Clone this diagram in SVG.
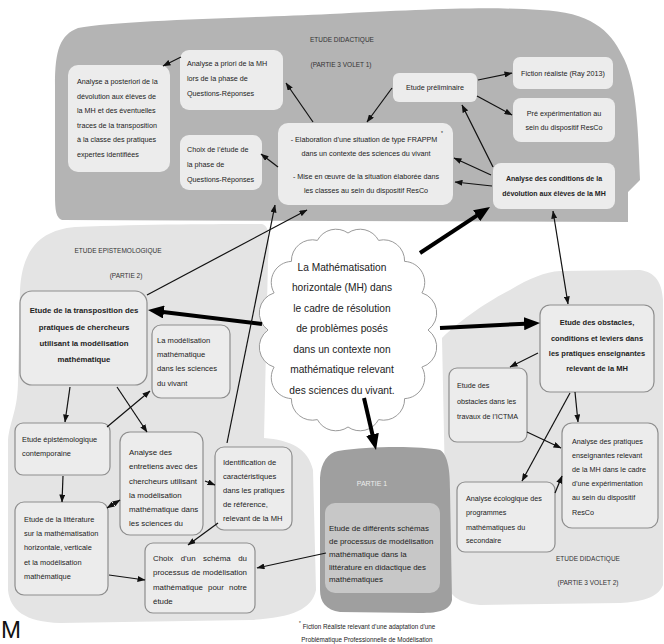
<svg xmlns="http://www.w3.org/2000/svg" width="664" height="644" viewBox="0 0 664 644">
<style>
.t{font-family:"Liberation Sans",Arial,sans-serif;fill:#222}
.s72{font-size:7.2px}
.s74{font-size:7.4px}
.s76{font-size:7.6px}
.s79{font-size:7.9px}
.ti{font-size:6.5px;fill:#333}
.b{font-weight:bold}
.c{text-anchor:middle}
.bx1{fill:#ececec}
.bx2{fill:#ececec;stroke:#8e8e8e;stroke-width:1.2}
.ln{stroke:#111;stroke-width:1.2;fill:none}
.th{stroke:#000;stroke-width:4;fill:none}
</style>
<defs>
<marker id="a" viewBox="0 0 8 6" refX="7.5" refY="3" markerWidth="8" markerHeight="6" markerUnits="userSpaceOnUse" orient="auto-start-reverse"><path d="M0,0L8,3L0,6z" fill="#111"/></marker>
<marker id="A" viewBox="0 0 16 13" refX="7" refY="6.5" markerWidth="16" markerHeight="13" markerUnits="userSpaceOnUse" orient="auto"><path d="M0,0L16,6.5L0,13z" fill="#000"/></marker>
</defs>
<rect width="664" height="644" fill="#fff"/>

<g id="zone-didactique-1">
<path d="M78,28 C120,20 250,18 330,14 C420,10 480,6 540,10 C590,12 610,30 622,55 C636,80 638,120 640,180 L628,192 L628,222 L62,220 C56,218 55,210 55,195 L55,85 C55,50 60,35 78,28 Z" fill="#b4b4b4"/>
<text class="t ti c" x="342" y="42">ETUDE DIDACTIQUE</text>
<text class="t ti c" x="341" y="67">(PARTIE 3 VOLET 1)</text>
</g>
<g id="zone-epistemologique">
<path d="M75,227 C150,224 230,224 262,224 C270,226 270,240 268,260 L264,438 C290,440 308,448 313,470 L316,590 C312,610 290,618 250,620 L60,623 C25,622 10,610 8,590 L8,440 C10,420 18,410 18,380 L20,290 C22,250 40,230 75,227 Z" fill="#e4e4e4"/>
<text class="t ti c" x="118" y="252.5">ETUDE EPISTEMOLOGIQUE</text>
<text class="t ti c" x="126" y="277.5">(PARTIE 2)</text>
</g>
<g id="zone-didactique-2">
<path d="M442,338 C460,320 490,300 510,290 C530,278 545,272 560,271 L640,270 C655,272 662,282 663,300 L663,585 C658,598 640,602 620,603 L480,605 C458,603 448,595 447,580 L442,338 Z" fill="#e4e4e4"/>
<text class="t ti c" x="588" y="561">ETUDE DIDACTIQUE</text>
<text class="t ti c" x="588" y="585">(PARTIE 3 VOLET 2)</text>
</g>
<g id="zone-partie1">
<path d="M338,451 C370,446 420,446 440,450 C448,455 450,470 450,490 L452,600 C450,610 440,613 420,613 L340,612 C326,610 320,602 320,590 L320,478 C321,462 328,453 338,451 Z" fill="#9f9f9f"/>
<text class="t c" x="372" y="485.5" style="font-size:7px;fill:#ececec">PARTIE 1</text>
</g>

<g id="cloud">
<path d="M428,330 A21,21 0 0 1 421.9,367.1 A21,21 0 0 1 404.6,398.6 A21,21 0 0 1 378.6,419.6 A21,21 0 0 1 348,427 A21,21 0 0 1 317.4,419.6 A21,21 0 0 1 291.4,398.6 A21,21 0 0 1 274.1,367.1 A21,21 0 0 1 268,330 A21,21 0 0 1 274.1,292.9 A21,21 0 0 1 291.4,261.4 A21,21 0 0 1 317.4,240.4 A21,21 0 0 1 348,233 A21,21 0 0 1 378.6,240.4 A21,21 0 0 1 404.6,261.4 A21,21 0 0 1 421.9,292.9 A21,21 0 0 1 428,330 Z" fill="#fff" stroke="#9a9a9a" stroke-width="1"/>
<text class="t c" style="font-size:10.2px" x="342"><tspan x="342" y="270.5">La Mathématisation</tspan><tspan x="342" y="291">horizontale (MH) dans</tspan><tspan x="342" y="311.5">le cadre de résolution</tspan><tspan x="342" y="332">de problèmes posés</tspan><tspan x="342" y="352.5">dans un contexte non</tspan><tspan x="342" y="373">mathématique relevant</tspan><tspan x="342" y="393.5">des sciences du vivant.</tspan></text>
</g>

<g id="n-aposteriori">
<rect class="bx1" x="68" y="65" width="102" height="107" rx="10"/>
<text class="t s72"><tspan x="77" y="84">Analyse a posteriori de la</tspan><tspan x="77" y="98.5">dévolution aux élèves de</tspan><tspan x="77" y="113">la MH et des éventuelles</tspan><tspan x="77" y="127.5">traces de la transposition</tspan><tspan x="77" y="142">à la classe des pratiques</tspan><tspan x="77" y="156.5">expertes identifiées</tspan></text>
</g>
<g id="n-apriori">
<rect class="bx1" x="180" y="50" width="103" height="60" rx="9"/>
<text class="t s72"><tspan x="187" y="65.5">Analyse a priori de la MH</tspan><tspan x="187" y="80.5">lors de la phase de</tspan><tspan x="187" y="95.5">Questions-Réponses</tspan></text>
</g>
<g id="n-choix-qr">
<rect class="bx1" x="180" y="135" width="82" height="55" rx="9"/>
<text class="t s72"><tspan x="187" y="151.5">Choix de l’étude de</tspan><tspan x="187" y="166.5">la phase de</tspan><tspan x="187" y="181.5">Questions-Réponses</tspan></text>
</g>
<g id="n-elaboration">
<rect class="bx1" x="278" y="123" width="175" height="82" rx="10"/>
<text class="t s72 c"><tspan x="364" y="141.5">- Elaboration d’une situation de type FRAPPM</tspan><tspan x="366" y="156">dans un contexte des sciences du vivant</tspan><tspan x="366" y="178.5">- Mise en œuvre de la situation élaborée dans</tspan><tspan x="366" y="193">les classes au sein du dispositif ResCo</tspan></text>
<text class="t" style="font-size:5px" x="441" y="135">*</text>
</g>
<g id="n-preliminaire">
<rect class="bx1" x="393" y="73" width="84" height="29" rx="6"/>
<text class="t s72 c" x="435" y="90">Etude préliminaire</text>
</g>
<g id="n-fiction">
<rect class="bx1" x="513" y="57" width="100" height="32" rx="7"/>
<text class="t s72 c" x="563" y="75.5">Fiction réaliste (Ray 2013)</text>
</g>
<g id="n-preexp">
<rect class="bx1" x="513" y="98" width="102" height="44" rx="8"/>
<text class="t s72 c"><tspan x="564" y="116">Pré expérimentation au</tspan><tspan x="564" y="130">sein du dispositif ResCo</tspan></text>
</g>
<g id="n-conditions">
<rect class="bx1" x="493" y="163" width="122" height="46" rx="8"/>
<text class="t b c" style="font-size:7px"><tspan x="554" y="181">Analyse des conditions de la</tspan><tspan x="554" y="196">dévolution aux élèves de la MH</tspan></text>
</g>

<g id="n-transposition">
<rect class="bx2" x="20" y="291" width="127" height="94" rx="12"/>
<text class="t b c" style="font-size:7.8px"><tspan x="84" y="313">Etude de la transposition des</tspan><tspan x="84" y="329.5">pratiques de chercheurs</tspan><tspan x="84" y="346">utilisant la modélisation</tspan><tspan x="84" y="362">mathématique</tspan></text>
</g>
<g id="n-modelisation-vivant">
<rect class="bx2" x="152" y="325" width="78" height="73" rx="9"/>
<text class="t s76"><tspan x="157" y="342.5">La modélisation</tspan><tspan x="157" y="356.5">mathématique</tspan><tspan x="157" y="370.5">dans les sciences</tspan><tspan x="157" y="385.5">du vivant</tspan></text>
</g>
<g id="n-epist-contemp">
<rect class="bx2" x="15" y="423" width="95" height="52" rx="8"/>
<text class="t s74"><tspan x="22" y="441.5">Etude épistémologique</tspan><tspan x="22" y="455.5">contemporaine</tspan></text>
</g>
<g id="n-entretiens">
<rect class="bx2" x="120" y="432" width="83" height="103" rx="10"/>
<text class="t s79"><tspan x="129" y="455">Analyse des</tspan><tspan x="129" y="469">entretiens avec des</tspan><tspan x="129" y="483.5">chercheurs utilisant</tspan><tspan x="129" y="497.5">la modélisation</tspan><tspan x="129" y="511.5">mathématique dans</tspan><tspan x="129" y="525.5">les sciences du</tspan></text>
</g>
<g id="n-identification">
<rect class="bx2" x="215" y="447" width="77" height="83" rx="9"/>
<text class="t s76"><tspan x="223" y="464.5">Identification de</tspan><tspan x="223" y="478.5">caractéristiques</tspan><tspan x="223" y="492.5">dans les pratiques</tspan><tspan x="223" y="506.5">de référence,</tspan><tspan x="223" y="520.5">relevant de la MH</tspan></text>
</g>
<g id="n-litterature">
<rect class="bx2" x="15" y="502" width="93" height="93" rx="9"/>
<text class="t s74"><tspan x="24" y="521.5">Etude de la littérature</tspan><tspan x="24" y="535.5">sur la mathématisation</tspan><tspan x="24" y="550">horizontale, verticale</tspan><tspan x="24" y="564.5">et la modélisation</tspan><tspan x="24" y="578.5">mathématique</tspan></text>
</g>
<g id="n-choix-schema">
<rect class="bx2" x="145" y="543" width="110" height="70" rx="8"/>
<g class="t s79">
<text x="153" y="560.5">Choix</text><text x="180.7" y="560.5">d’un</text><text x="203.1" y="560.5">schéma</text><text x="247" y="560.5" text-anchor="end">du</text>
<text x="153" y="575">processus</text><text x="191.5" y="575">de</text><text x="247" y="575" text-anchor="end">modélisation</text>
<text x="153" y="589.5">mathématique</text><text x="208" y="589.5">pour</text><text x="247" y="589.5" text-anchor="end">notre</text>
<text x="153" y="604">étude</text>
</g>
</g>

<g id="n-schemas">
<rect x="325" y="503" width="115" height="90" rx="10" fill="#c7c7c7"/>
<text class="t" style="font-size:7.9px"><tspan x="329" y="531">Etude de différents schémas</tspan><tspan x="329" y="544">de processus de modélisation</tspan><tspan x="329" y="557">mathématique dans la</tspan><tspan x="329" y="569.5">littérature en didactique des</tspan><tspan x="329" y="582">mathématiques</tspan></text>
</g>

<g id="n-obstacles-leviers">
<rect class="bx2" x="540" y="305" width="114" height="87" rx="10"/>
<text class="t b c" style="font-size:7.5px"><tspan x="597" y="324.5">Etude des obstacles,</tspan><tspan x="597" y="340.5">conditions et leviers dans</tspan><tspan x="597" y="355.5">les pratiques enseignantes</tspan><tspan x="597" y="370.5">relevant de la MH</tspan></text>
</g>
<g id="n-ictma">
<rect class="bx2" x="449" y="368" width="78" height="74" rx="8"/>
<text class="t s72"><tspan x="457" y="387.5">Etude des</tspan><tspan x="457" y="404">obstacles dans les</tspan><tspan x="457" y="419">travaux de l’ICTMA</tspan></text>
</g>
<g id="n-pratiques-ens">
<rect class="bx2" x="562" y="423" width="96" height="105" rx="10"/>
<text class="t s72"><tspan x="572" y="443.5">Analyse des pratiques</tspan><tspan x="572" y="457.5">enseignantes relevant</tspan><tspan x="572" y="471.5">de la MH dans le cadre</tspan><tspan x="572" y="485.5">d’une expérimentation</tspan><tspan x="572" y="500">au sein du dispositif</tspan><tspan x="572" y="514.5">ResCo</tspan></text>
</g>
<g id="n-ecologique">
<rect class="bx2" x="457" y="482" width="98" height="70" rx="8"/>
<text class="t s72"><tspan x="466" y="500.5">Analyse écologique des</tspan><tspan x="466" y="515">programmes</tspan><tspan x="466" y="529.5">mathématiques du</tspan><tspan x="466" y="543">secondaire</tspan></text>
</g>

<g id="footnote">
<text class="t" style="font-size:4.5px" x="299" y="625">*</text>
<text class="t c" style="font-size:6.3px"><tspan x="369" y="629">Fiction Réaliste relevant d’une adaptation d’une</tspan><tspan x="367" y="642">Problématique Professionnelle de Modélisation</tspan></text>
</g>
<text id="stray-m" class="t" style="font-size:24px;fill:#111" x="1" y="638">M</text>

<g id="connectors">
<line class="th" x1="420" y1="253" x2="482.5" y2="211.9" marker-end="url(#A)"/>
<line class="th" x1="262" y1="324" x2="156.9" y2="311.2" marker-end="url(#A)"/>
<line class="th" x1="440" y1="328" x2="531" y2="323.4" marker-end="url(#A)"/>
<line class="th" x1="364" y1="398" x2="374" y2="441.2" marker-end="url(#A)"/>
<line class="ln" x1="181" y1="57" x2="163" y2="66" marker-end="url(#a)"/>
<line class="ln" x1="313" y1="122" x2="286" y2="83" marker-end="url(#a)"/>
<line class="ln" x1="278" y1="167" x2="261" y2="154" marker-end="url(#a)"/>
<line class="ln" x1="392" y1="88" x2="367" y2="122" marker-end="url(#a)"/>
<line class="ln" x1="478" y1="80" x2="512" y2="73" marker-end="url(#a)"/>
<line class="ln" x1="477" y1="96" x2="512" y2="115" marker-end="url(#a)"/>
<line class="ln" x1="493" y1="167" x2="462" y2="105" marker-end="url(#a)"/>
<line class="ln" x1="491" y1="175" x2="454" y2="158" marker-end="url(#a)"/>
<line class="ln" x1="492" y1="186" x2="455" y2="182" marker-end="url(#a)"/>
<line class="ln" x1="147" y1="295" x2="307" y2="210" marker-end="url(#a)"/>
<line class="ln" x1="227" y1="443" x2="275" y2="205" marker-end="url(#a)"/>
<line class="ln" x1="70" y1="387" x2="65" y2="422" marker-end="url(#a)"/>
<line class="ln" x1="107" y1="427" x2="150" y2="391" marker-end="url(#a)"/>
<line class="ln" x1="117" y1="387" x2="147" y2="432" marker-end="url(#a)"/>
<line class="ln" x1="63" y1="476" x2="62" y2="502" marker-end="url(#a)"/>
<line class="ln" x1="107" y1="508" x2="120" y2="500" marker-start="url(#a)" marker-end="url(#a)"/>
<line class="ln" x1="205" y1="481" x2="215" y2="485" marker-end="url(#a)"/>
<line class="ln" x1="218" y1="523" x2="188" y2="545" marker-end="url(#a)"/>
<line class="ln" x1="109" y1="575" x2="145" y2="580" marker-end="url(#a)"/>
<line class="ln" x1="326" y1="553" x2="257" y2="568" marker-end="url(#a)"/>
<line class="ln" x1="553" y1="211" x2="568" y2="304" marker-start="url(#a)" marker-end="url(#a)"/>
<line class="ln" x1="538" y1="353" x2="510" y2="367" marker-end="url(#a)"/>
<line class="ln" x1="575" y1="392" x2="578" y2="422" marker-end="url(#a)"/>
<line class="ln" x1="570" y1="393" x2="522" y2="481" marker-end="url(#a)"/>
<line class="ln" x1="527" y1="432" x2="561" y2="448" marker-end="url(#a)"/>
<line class="ln" x1="555" y1="493" x2="562" y2="476" marker-end="url(#a)"/>
</g>
</svg>
